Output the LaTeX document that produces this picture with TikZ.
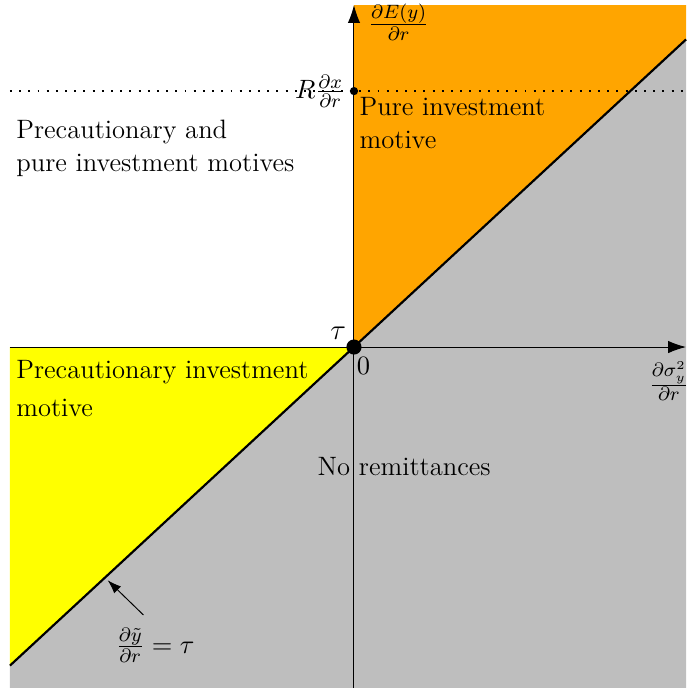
\documentclass[tikz,border=0pt]{standalone}
\usepackage{amsmath}
\usetikzlibrary{arrows.meta}
\definecolor{pureorange}{HTML}{FFA500}
\definecolor{noremgray}{HTML}{BEBEBE}
\definecolor{precyellow}{HTML}{FFFF00}

\begin{document}
\begin{tikzpicture}[every node/.style={font=\fontsize{11}{13.6}\selectfont},
	axis/.style={-{Latex[length=0.26cm,width=0.18cm]}},
	region/.style={align=left, anchor=west, inner sep=1pt}]
	\useasboundingbox (-5.145,-4.956) rectangle (4.826,5.044);
	% corners of the regions
	\coordinate (O) at (0,0);
	\coordinate (NE) at (4.826,4.47);
	\coordinate (SW) at (-5.0,-4.63);
	% shaded regions
	\fill[noremgray] (O) -- (NE) -- (4.826,-4.956) -- (-5.0,-4.956) -- (SW) -- cycle;
	\fill[pureorange] (O) -- (0,4.97) -- (4.826,4.97) -- (NE) -- cycle;
	\fill[precyellow] (O) -- (-5.0,0) -- (SW) -- cycle;
	% axes
	\coordinate (xl) at (-5.0,0);
	\coordinate (xr) at (4.826,0);
	\coordinate (yb) at (0,-4.956);
	\coordinate (yt) at (0,4.97);
	\draw[axis] (xl) -- (xr);
	\draw[axis] (yb) -- (yt);
	% dotted level
	\coordinate (dl) at (-5.0,3.72);
	\coordinate (dr) at (4.826,3.72);
	\draw[line width=0.5pt, dash pattern=on 0.8pt off 3pt] (dl) -- (dr);
	% diagonal
	\draw[line width=0.9pt] (SW) -- (NE);
	% points
	\fill (O) circle (0.11);
	\fill (0,3.72) circle (0.06);
	\node[left, inner sep=1pt] (Rx) at (-0.09,3.72) {$R\frac{\partial x}{\partial r}$};
	\node (tau) at (-0.23,0.2) {\large$\tau$};
	\node (zero) at (0.14,-0.27) {$0$};
	\node (Ey) at (0.65,4.72) {$\frac{\partial E(y)}{\partial r}$};
	\node[anchor=west, inner sep=0pt] (sig) at (4.28,-0.5) {$\frac{\partial \sigma_y^2}{\partial r}$};
	% region labels
	\node[region] (both) at (-4.95,2.89) {Precautionary and\\pure investment motives};
	\node[region] (pure) at (0.04,3.26) {Pure investment\\motive};
	\node[region] (prec) at (-4.95,-0.6) {Precautionary investment\\[2pt]motive};
	\node (norem) at (0.73,-1.73) {No remittances};
	% slope label
	\node (slope) at (-2.89,-4.33) {$\frac{\partial \tilde{y}}{\partial r}=\tau$};
	\coordinate (online) at (-3.58,-3.39);
	\draw[-{Latex[length=0.2cm,width=0.14cm]}] (slope.north) ++(-0.17,0.06) -- (online);
\end{tikzpicture}
\end{document}
